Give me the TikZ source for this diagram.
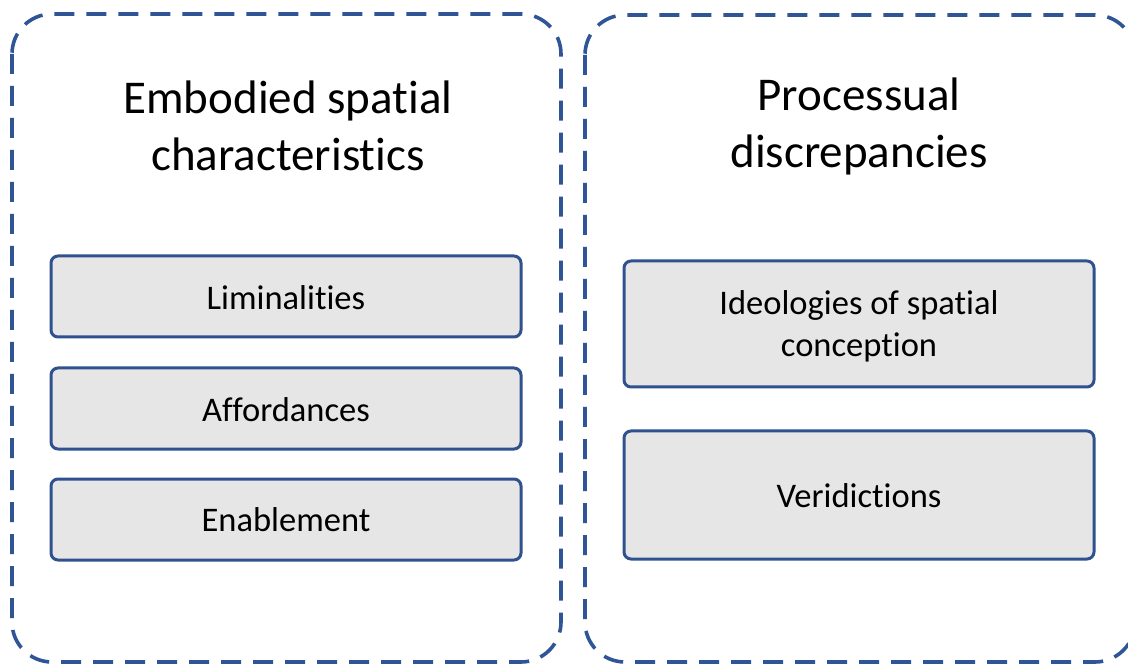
\documentclass[tikz,border=0pt]{standalone}
\usepackage{fontspec}
\setmainfont{Carlito}[Ligatures=CommonOff]
\begin{document}
\begin{tikzpicture}[x=1pt,y=-1pt,
  groupbox/.style={draw=groupblue, line width=3.6pt, dash pattern=on 20pt off 12pt, rounded corners=40pt},
  itembox/.style={draw=itemblue, fill=itemgray, line width=3pt, rounded corners=7pt},
  titletext/.style={font=\fontsize{47}{57}\selectfont, align=center, inner sep=0pt},
  itemtext/.style={font=\fontsize{34.5}{42}\selectfont, align=center, inner sep=0pt}]
\definecolor{groupblue}{HTML}{2F5597}
\definecolor{itemblue}{HTML}{2F528F}
\definecolor{itemgray}{HTML}{E7E6E6}
\useasboundingbox (0,0) rectangle (1128,668);
\clip (0,0) rectangle (1128,668);
\fill[white] (0,0) rectangle (1128,668);

% outer dashed groups
\draw[groupbox] (12,14) rectangle (561,662);
\draw[groupbox] (585,15) rectangle (1135,662);

% group titles
\node[titletext] (t1) at (288,126) {Embodied spatial\\characteristics};
\node[titletext] (t2) at (859,126) {Processual\\discrepancies};

% left column items
\draw[itembox] (51,256) rectangle (521,337);
\node[itemtext] (a1) at (286,298) {Liminalities};
\draw[itembox] (51,368) rectangle (521,449);
\node[itemtext] (a2) at (286,410) {Affordances};
\draw[itembox] (51,479) rectangle (521,560);
\node[itemtext] (a3) at (286,520) {Enablement};

% right column items
\draw[itembox] (624,261) rectangle (1094,387);
\node[itemtext] (b1) at (859,326) {Ideologies of spatial\\conception};
\draw[itembox] (624,431) rectangle (1094,559);
\node[itemtext] (b2) at (859,496) {Veridictions};
\end{tikzpicture}
\end{document}
